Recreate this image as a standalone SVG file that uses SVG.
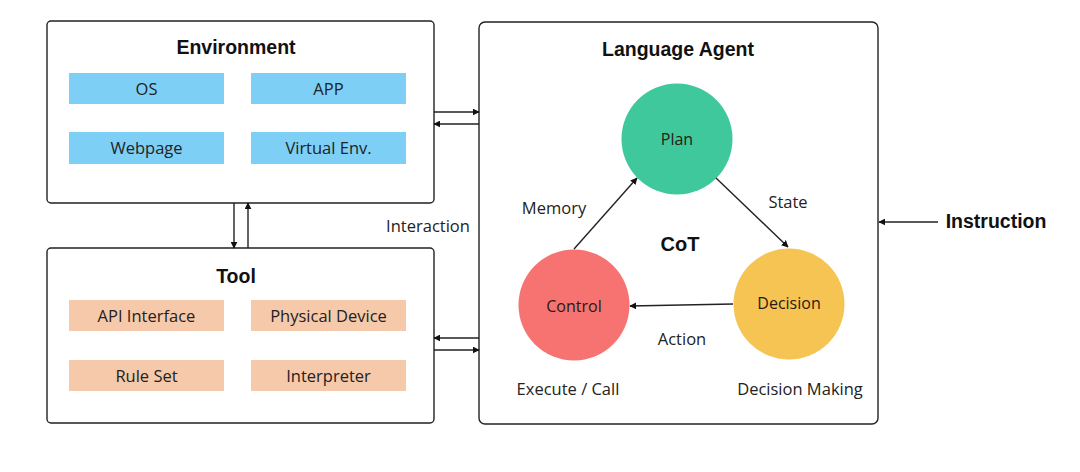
<svg xmlns="http://www.w3.org/2000/svg" width="1080" height="472" viewBox="0 0 1080 472">
<style>
.box{fill:#fff;stroke:#222;stroke-width:1.4}
.env{fill:#7dcff5}
.tool{fill:#f6c9aa}
.t{font-family:"Open Sans","Liberation Sans",sans-serif;font-size:16.5px;fill:#222;text-anchor:middle}
.h{font-family:"Liberation Sans",Arial,sans-serif;font-weight:bold;font-size:19.5px;fill:#111;text-anchor:middle}
.c{font-family:"Open Sans","Liberation Sans",sans-serif;font-size:16px;fill:#2a1a12;text-anchor:middle}
.ln{stroke:#222;stroke-width:1.4;fill:none}
</style>
<defs>
<marker id="ar" viewBox="0 0 10 10" refX="9" refY="5" markerWidth="7" markerHeight="7" markerUnits="userSpaceOnUse" orient="auto">
<path d="M0,0 L10,5 L0,10 z" fill="#111"/>
</marker>
</defs>
<rect width="1080" height="472" fill="#fff"/>
<g id="environment">
<rect class="box" x="47" y="21" width="387" height="182" rx="4"/>
<text class="h" x="236" y="54">Environment</text>
<rect class="env" x="69" y="73" width="155" height="31"/>
<text class="t" x="146.5" y="94.5">OS</text>
<rect class="env" x="251" y="73" width="155" height="31"/>
<text class="t" x="328.5" y="94.5">APP</text>
<rect class="env" x="69" y="132" width="155" height="32"/>
<text class="t" x="146.5" y="154">Webpage</text>
<rect class="env" x="251" y="132" width="155" height="32"/>
<text class="t" x="328.5" y="154">Virtual Env.</text>
</g>
<g id="tool">
<rect class="box" x="47" y="248" width="387" height="175" rx="4"/>
<text class="h" x="236" y="283">Tool</text>
<rect class="tool" x="69" y="300" width="155" height="31"/>
<text class="t" x="146.5" y="321.5">API Interface</text>
<rect class="tool" x="251" y="300" width="155" height="31"/>
<text class="t" x="328.5" y="321.5">Physical Device</text>
<rect class="tool" x="69" y="360" width="155" height="31"/>
<text class="t" x="146.5" y="381.5">Rule Set</text>
<rect class="tool" x="251" y="360" width="155" height="31"/>
<text class="t" x="328.5" y="381.5">Interpreter</text>
</g>
<g id="agent">
<rect class="box" x="479" y="22" width="399" height="402" rx="6"/>
<text class="h" x="678" y="56">Language Agent</text>
<text class="h" x="680" y="251" style="font-size:20px">CoT</text>
<text class="t" x="554" y="214">Memory</text>
<text class="t" x="788" y="208">State</text>
<text class="t" x="682" y="345">Action</text>
<text class="t" x="568" y="395">Execute / Call</text>
<text class="t" x="800" y="395">Decision Making</text>
</g>
<g id="plan">
<circle cx="677" cy="139" r="55.5" fill="#3ec89c"/>
<text class="c" x="677" y="145">Plan</text>
</g>
<g id="control">
<circle cx="574" cy="305" r="55.5" fill="#f67371"/>
<text class="c" x="574" y="312">Control</text>
</g>
<g id="decision">
<circle cx="789" cy="304" r="55.5" fill="#f5c452"/>
<text class="c" x="789" y="309">Decision</text>
</g>
<g id="instruction">
<text class="h" x="996" y="228">Instruction</text>
</g>
<g id="connectors">
<line class="ln" x1="574" y1="249" x2="637" y2="178" marker-end="url(#ar)"/>
<line class="ln" x1="716" y1="178" x2="788" y2="247" marker-end="url(#ar)"/>
<line class="ln" x1="733" y1="304" x2="630" y2="306" marker-end="url(#ar)"/>
<line class="ln" x1="434" y1="112" x2="479" y2="112" marker-end="url(#ar)"/>
<line class="ln" x1="479" y1="124" x2="434" y2="124" marker-end="url(#ar)"/>
<line class="ln" x1="479" y1="338" x2="434" y2="338" marker-end="url(#ar)"/>
<line class="ln" x1="434" y1="350" x2="479" y2="350" marker-end="url(#ar)"/>
<line class="ln" x1="234" y1="203" x2="234" y2="248" marker-end="url(#ar)"/>
<line class="ln" x1="248" y1="248" x2="248" y2="203" marker-end="url(#ar)"/>
<line class="ln" x1="938" y1="222" x2="879" y2="222" marker-end="url(#ar)"/>
<text class="t" x="428" y="232">Interaction</text>
</g>
</svg>
